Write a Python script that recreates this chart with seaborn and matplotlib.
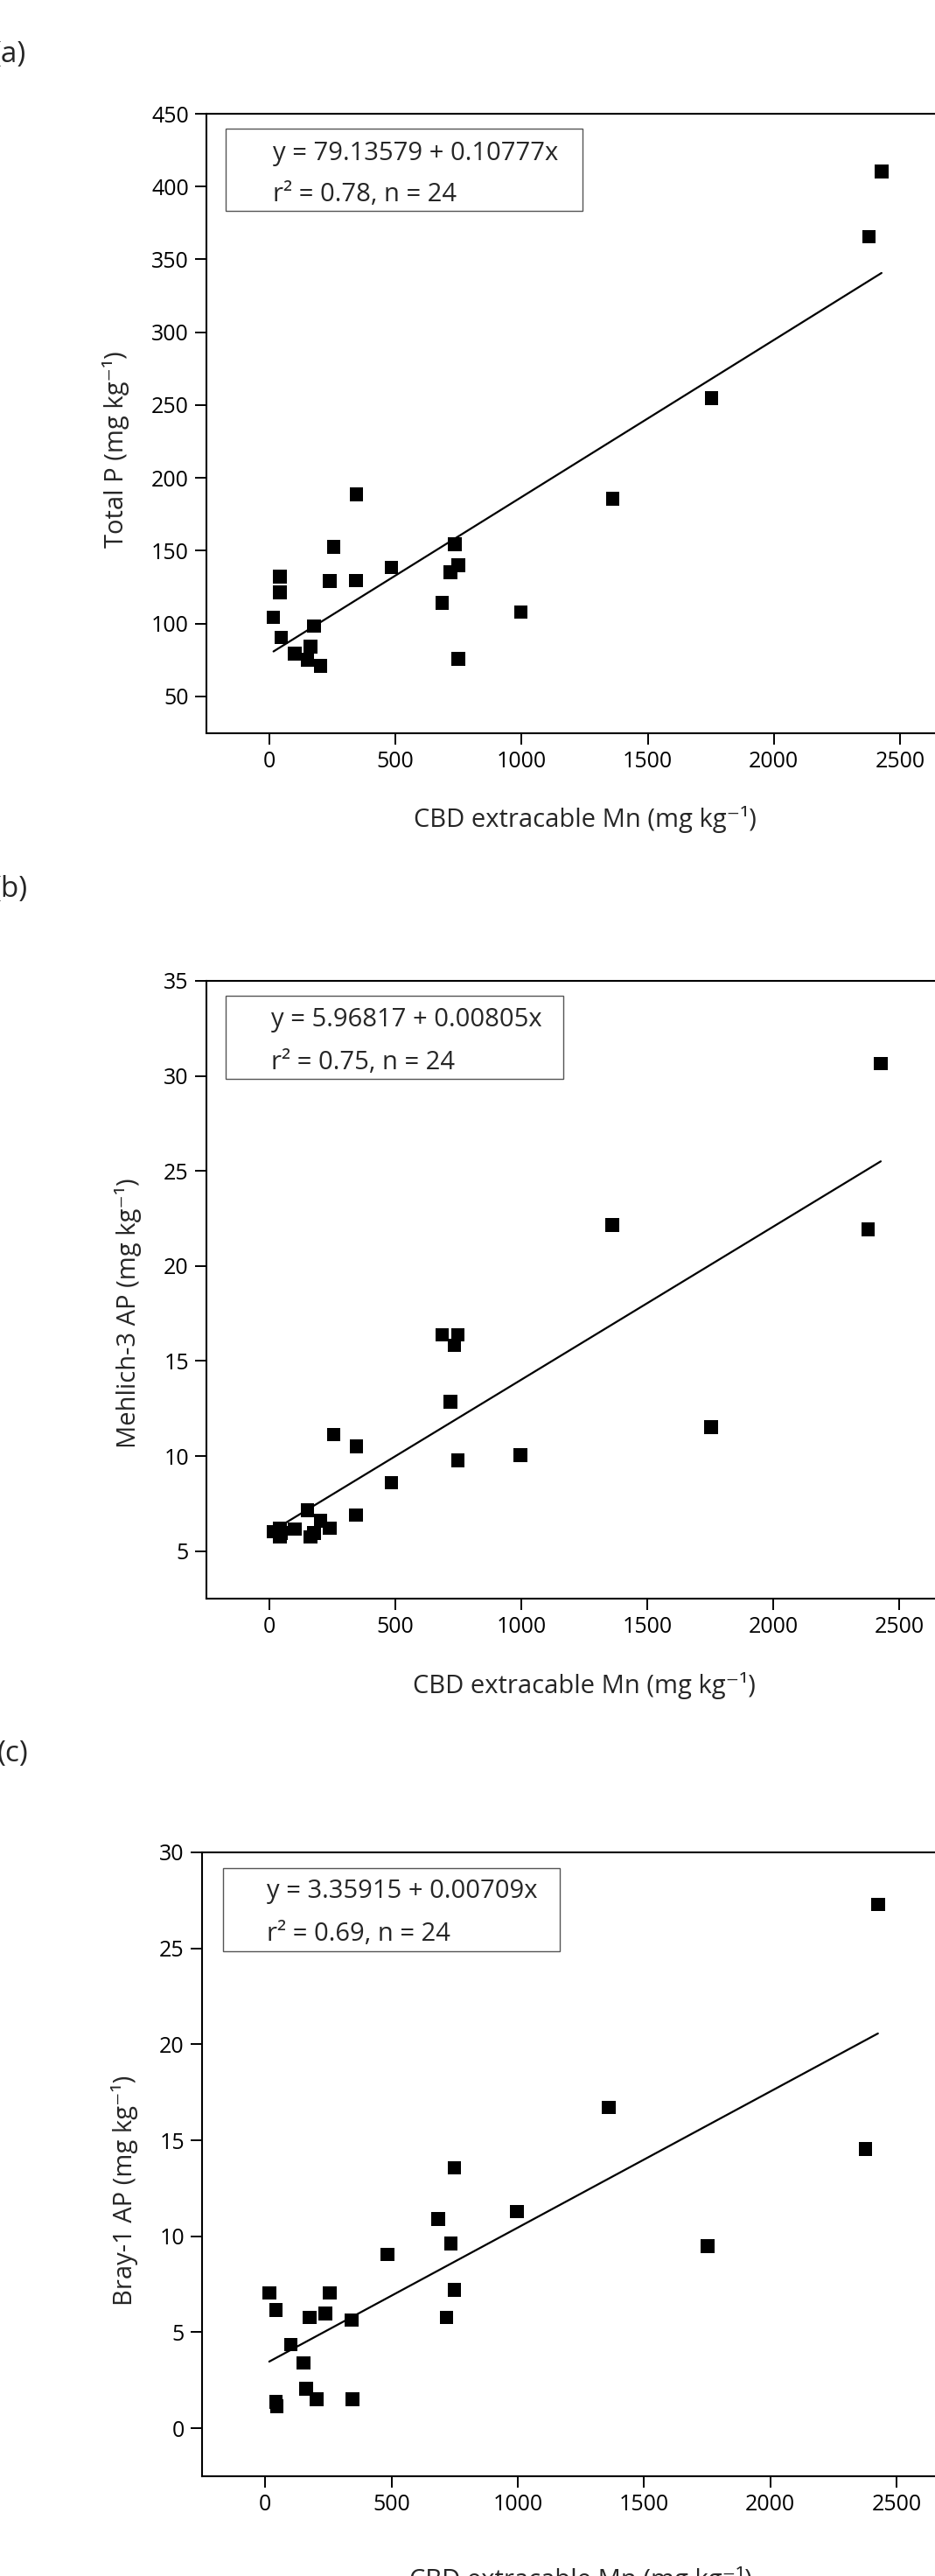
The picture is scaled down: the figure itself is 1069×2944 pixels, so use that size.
import numpy as np
import pandas as pd
import seaborn as sns
import matplotlib.pyplot as plt
from matplotlib.patches import Rectangle

# CBD extractable Mn for the 24 soils (mg kg-1), shared by all three panels
mn = [16, 42, 42, 47, 101, 151, 163, 177, 203, 239, 255, 343,
      345, 484, 685, 718, 735, 749, 749, 997, 1361, 1753, 2377, 2427]

# phosphorus values, same order as mn
total_p = [104.4, 121.3, 132.2, 90.5, 79.3, 75.1, 84.1, 98.4, 71.0, 129.2, 152.8, 129.5,
           188.8, 138.6, 114.2, 135.2, 154.3, 140.0, 75.9, 107.8, 185.8, 254.9, 365.6, 410.2]
mehlich3 = [6.03, 6.2, 5.74, 5.95, 6.15, 7.15, 5.75, 5.95, 6.6, 6.2, 11.13, 6.89,
            10.5, 8.6, 16.37, 12.86, 15.82, 16.37, 9.78, 10.04, 22.16, 11.53, 21.93, 30.65]
bray1 = [7.06, 6.17, 1.37, 1.14, 4.37, 3.4, 2.06, 5.77, 1.51, 5.97, 7.06, 5.63,
         1.51, 9.06, 10.91, 5.77, 9.63, 13.57, 7.2, 11.29, 16.71, 9.49, 14.54, 27.29]

# regression results printed in the boxes
intercepts = [79.13579, 5.96817, 3.35915]
slopes = [0.10777, 0.00805, 0.00709]
intercept_txt = ['79.13579', '5.96817', '3.35915']
slope_txt = ['0.10777', '0.00805', '0.00709']
r2_txt = ['0.78', '0.75', '0.69']
n_obs = 24

panel_tags = ['(a)', '(b)', '(c)']
y_titles = ['Total P (mg kg⁻¹)', 'Mehlich-3 AP (mg kg⁻¹)', 'Bray-1 AP (mg kg⁻¹)']
x_title = 'CBD extracable Mn (mg kg⁻¹)'
y_ticks = [list(range(50, 451, 50)), list(range(5, 36, 5)), list(range(0, 31, 5))]
y_lims = [(25, 450), (2.5, 35), (-2.5, 30)]
x_ticks = [0, 500, 1000, 1500, 2000, 2500]
x_lim = (-250, 2750)

sns.set_style('ticks')
plt.rcParams['font.family'] = ['Open Sans', 'DejaVu Sans']
plt.rcParams['axes.linewidth'] = 1.5

W, H = 1069, 2944
fig = plt.figure(figsize=(W / 100, H / 100), dpi=100)

# layout in pixels (left, right, top, bottom); right spine falls off the page
ax_px = [(236, 1101, 130, 837.5), (236, 1100, 1121, 1827), (231, 1097, 2117, 2830)]
leg_px = [(258, 666, 147, 241), (258, 644, 1137.5, 1232.5), (255, 640, 2134.5, 2230)]
leg_text_px = [(312, 175, 222), (310, 1166, 1214), (305, 2162, 2211)]
tag_px = [(-8, 63), (-8, 1017), (-3, 2004)]
ylab_px = [(132, 514), (147, 1501), (143, 2503)]
xlab_py = [937, 1927, 2948]

ys = [total_p, mehlich3, bray1]

for i in range(3):
    L, R, T, B = ax_px[i]
    ax = fig.add_axes([L / W, 1 - B / H, (R - L) / W, (B - T) / H])

    def fx(px):
        return (px - L) / (R - L)

    def fy(py):
        return (B - py) / (B - T)

    df = pd.DataFrame({'mn': mn, 'p': ys[i]})
    line = pd.DataFrame({'mn': [min(mn), max(mn)]})
    line['p'] = intercepts[i] + slopes[i] * line['mn']

    sns.lineplot(data=line, x='mn', y='p', color='black', linewidth=1.6, ax=ax)
    sns.scatterplot(data=df, x='mn', y='p', marker='s', s=125, color='black',
                    edgecolor='none', ax=ax, zorder=3)

    ax.set_xlim(x_lim)
    ax.set_ylim(y_lims[i])
    ax.set_xticks(x_ticks)
    ax.set_yticks(y_ticks[i])
    ax.tick_params(direction='out', length=9.5, width=1.4, labelsize=18, pad=5,
                   colors='black')
    for s in ['top', 'right', 'left', 'bottom']:
        ax.spines[s].set_color('black')

    ax.set_xlabel(x_title, fontsize=21, va='center')
    ax.xaxis.set_label_coords(0.5, fy(xlab_py[i]))
    ax.set_ylabel(y_titles[i], fontsize=21, va='center', ha='center')
    ax.yaxis.set_label_coords(fx(ylab_px[i][0]), fy(ylab_px[i][1]))

    # equation box
    bl, br, bt, bb = leg_px[i]
    ax.add_patch(Rectangle((fx(bl), fy(bb)), fx(br) - fx(bl), fy(bt) - fy(bb),
                           transform=ax.transAxes, fill=False, edgecolor='#555555',
                           linewidth=1.0, zorder=4))
    tx, ty1, ty2 = leg_text_px[i]
    ax.text(fx(tx), fy(ty1), f'y = {intercept_txt[i]} + {slope_txt[i]}x',
            transform=ax.transAxes, fontsize=21, va='center', ha='left')
    ax.text(fx(tx), fy(ty2), f'r² = {r2_txt[i]}, n = {n_obs}',
            transform=ax.transAxes, fontsize=21, va='center', ha='left')

    # panel tag, left paren runs off the page
    fig.text(tag_px[i][0] / W, 1 - tag_px[i][1] / H, panel_tags[i], fontsize=24,
             va='center', ha='left')

fig.savefig('out.png', dpi=100, facecolor='white')
